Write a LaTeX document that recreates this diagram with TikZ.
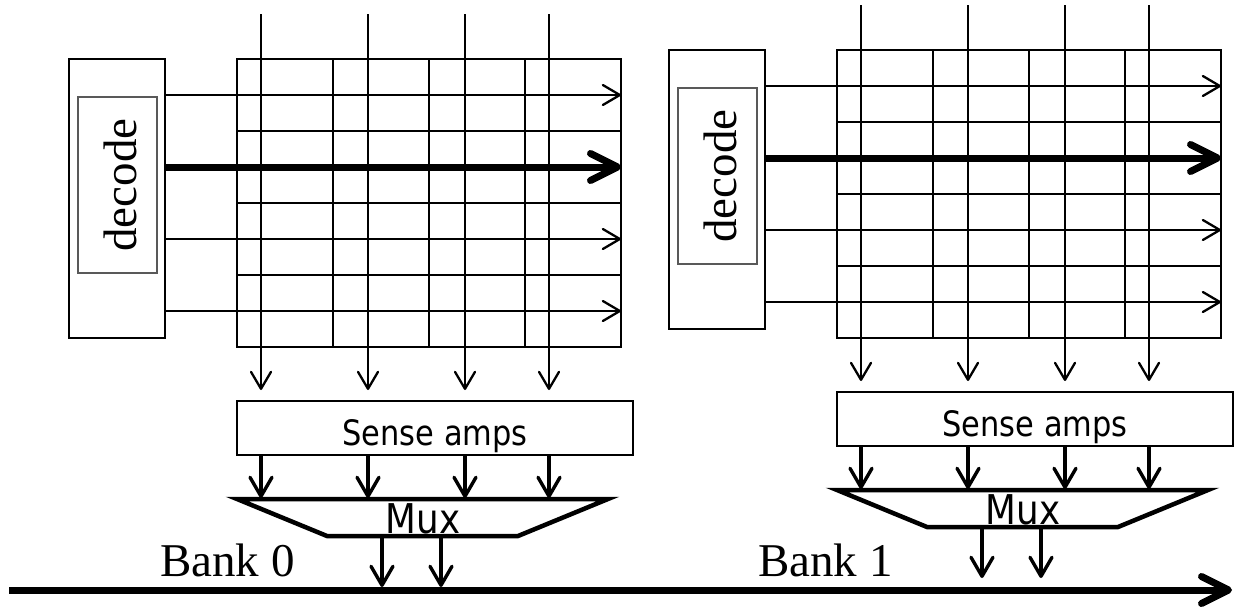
\documentclass[tikz,border=0pt]{standalone}
\usepackage{fontspec}
\setmainfont{Liberation Serif}
\newfontfamily\tahomalike[FakeStretch=0.87]{DejaVu Sans}
\usetikzlibrary{arrows.meta}
\tikzset{
  thinarr/.style={line width=2.3pt, -{Straight Barb[length=17pt,width=20pt,round]}},
  medarr/.style={line width=3.4pt, -{Straight Barb[length=19pt,width=22pt,round]}},
  boldarr/.style={line width=7pt, -{Straight Barb[length=27pt,width=27pt,round]}},
  box/.style={draw, line width=2.4pt, inner sep=0pt},
  gridline/.style={line width=2.4pt},
  serifbig/.style={font=\fontsize{47pt}{50pt}\selectfont},
  sanstext/.style={font=\tahomalike\fontsize{35pt}{37pt}\selectfont, inner sep=0pt},
  muxtext/.style={font=\tahomalike\fontsize{41pt}{43pt}\selectfont, inner sep=0pt},
}
\newcommand\drawbank[2]{%
\begin{scope}[shift={#2}]
  % decoder
  \node[box, minimum width=96pt, minimum height=279pt] (#1dec) at (117,198.5) {};
  \node[draw=black!65, line width=1.8pt, inner sep=0pt, minimum width=79pt, minimum height=176pt] (#1decin) at (117.5,185) {};
  \node[serifbig, rotate=90, inner sep=0pt] (#1dectxt) at (120,185) {decode};
  % cell array
  \node[box, minimum width=384pt, minimum height=288pt] (#1grid) at (429,203) {};
  \foreach \x in {333,429,525} \draw[gridline] (\x,59) -- (\x,347);
  \foreach \y in {131,203,275} \draw[gridline] (237,\y) -- (621,\y);
  % word lines
  \foreach \y [count=\i] in {95,239,311} {
    \coordinate (#1wl\i) at (621,\y);
    \draw[thinarr] (#1dec.east |- #1wl\i) -- (#1wl\i);
  }
  \coordinate (#1wlb) at (621,167);
  \draw[boldarr] (#1dec.east |- #1wlb) -- (#1wlb);
  % sense amps
  \node[box, minimum width=396pt, minimum height=54pt] (#1sa) at (435,428) {};
  \node[sanstext, anchor=base] (#1satxt) at (435,445) {Sense amps};
  % bit lines
  \foreach \x [count=\i] in {261,368,465,549} {
    \coordinate (#1bt\i) at (\x,14);
    \coordinate (#1bb\i) at (\x,390);
    \draw[thinarr] (#1bt\i) -- (#1bb\i);
    \coordinate (#1mt\i) at (\x,498);
    \draw[medarr] (#1sa.south -| #1mt\i) -- (#1mt\i);
  }
  % mux
  \coordinate (#1m1) at (237,499);
  \coordinate (#1m2) at (608,499);
  \coordinate (#1m3) at (518,536);
  \coordinate (#1m4) at (327,536);
  \draw[line width=4.5pt, line join=miter] (#1m1) -- (#1m2) -- (#1m3) -- (#1m4) -- cycle;
  \node[muxtext, anchor=base] (#1muxtxt) at (423,533) {Mux};
  \foreach \x [count=\i] in {382,441} {
    \coordinate (#1ot\i) at (\x,536);
    \coordinate (#1ob\i) at (\x,587);
    \draw[medarr] (#1ot\i) -- (#1ob\i);
  }
\end{scope}}
\begin{document}
\begin{tikzpicture}[x=1pt,y=-1pt]
  \useasboundingbox (0,0) rectangle (1239,608);
  \drawbank{L}{(0,0)}
  \drawbank{R}{(600,-9)}
  \coordinate (busL) at (9,590);
  \coordinate (busR) at (1232,590);
  \draw[boldarr] (busL) -- (busR);
  \node[serifbig, anchor=base west, inner sep=0pt] (bank0) at (160,576) {Bank 0};
  \node[serifbig, anchor=base west, inner sep=0pt] (bank1) at (758,576) {Bank 1};
\end{tikzpicture}
\end{document}
